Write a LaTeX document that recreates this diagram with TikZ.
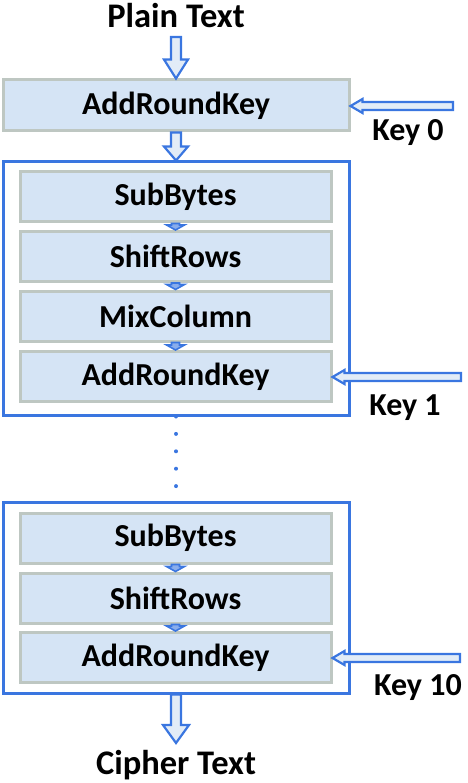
\documentclass[tikz,border=0pt]{standalone}
\usepackage{fontspec}
\setmainfont{Carlito}
\usetikzlibrary{calc}
\definecolor{aesblue}{HTML}{3A76E0}
\definecolor{boxfill}{HTML}{D5E4F5}
\definecolor{boxline}{HTML}{BEC7C2}
\definecolor{arrowfill}{HTML}{E2ECF7}
\tikzset{
  lbl/.style={font=\fontsize{32}{32}\selectfont\bfseries, text=black, inner sep=0pt},
  biglbl/.style={lbl, font=\fontsize{34.5}{34.5}\selectfont\bfseries},
  stepbox/.style={draw=boxline, fill=boxfill, line width=3pt, minimum width=311pt, minimum height=50pt, inner sep=0pt, font=\fontsize{32}{32}\selectfont\bfseries},
  roundframe/.style={draw=aesblue, line width=3pt, minimum width=346pt, inner sep=0pt},
  harrow/.style={draw=aesblue, fill=arrowfill, line width=2.2pt, line join=miter},
  sarrow/.style={draw=aesblue, fill=aesblue!60!white, line width=1.6pt, line join=miter},
  dotline/.style={draw=aesblue, line width=4pt, line cap=round, dash pattern=on 0pt off 17.4pt}
}
\newcommand\hollowDown[6]{% style, from, to, shaft half, head half, head length
  \draw[#1] let \p1=(#2), \p2=(#3) in
    (\x1-#4pt,\y1) -- (\x1-#4pt,\y2+#6pt) -- (\x1-#5pt,\y2+#6pt) -- (\x1,\y2)
    -- (\x1+#5pt,\y2+#6pt) -- (\x1+#4pt,\y2+#6pt) -- (\x1+#4pt,\y1) -- cycle;}
\newcommand\hollowLeft[6]{% style, from, to, shaft half, head half, head length
  \draw[#1] let \p1=(#2), \p2=(#3) in
    (\x1,\y1+#4pt) -- (\x2+#6pt,\y1+#4pt) -- (\x2+#6pt,\y1+#5pt) -- (\x2,\y1)
    -- (\x2+#6pt,\y1-#5pt) -- (\x2+#6pt,\y1-#4pt) -- (\x1,\y1-#4pt) -- cycle;}
\begin{document}
\begin{tikzpicture}[x=1pt,y=-1pt]
\useasboundingbox (0,0) rectangle (467,783);

% texts
\node[biglbl] (plain) at (176,16) {Plain Text};
\node[biglbl, anchor=base] (cipher) at (176,774) {Cipher Text};
\node[lbl] (k0) at (408,133) {Key 0};
\node[lbl] (k1) at (405,408) {Key 1};
\node[lbl] (k10) at (418,688) {Key 10};

% initial AddRoundKey
\node[stepbox, minimum width=346pt, minimum height=51pt] (ark0) at (176,105.5) {AddRoundKey};

% round 1
\node[roundframe, minimum height=253pt] (fr1) at (176,288.5) {};
\node[stepbox] (sb1) at (175.5,197) {SubBytes};
\node[stepbox] (sr1) at (175.5,256.5) {ShiftRows};
\node[stepbox] (mc1) at (175.5,316) {MixColumn};
\node[stepbox] (ark1) at (175.5,376.5) {AddRoundKey};

% round 10
\node[roundframe, minimum height=191pt] (fr10) at (176,597.5) {};
\node[stepbox] (sb10) at (175.5,538) {SubBytes};
\node[stepbox] (sr10) at (175.5,598) {ShiftRows};
\node[stepbox] (ark10) at (175.5,657.5) {AddRoundKey};

% coordinates for free ends
\coordinate (ptout) at (176,37);
\coordinate (ctin) at (176,743);
\coordinate (k0s) at (453,106);
\coordinate (k1s) at (461,377);
\coordinate (k10s) at (460,658);

% main arrows
\hollowDown{harrow}{ptout}{ark0.north}{5}{12}{19}
\hollowDown{harrow}{ark0.south}{fr1.north}{5}{12}{14}
\hollowDown{harrow}{fr10.south}{ctin}{5}{13}{18}

% small arrows
\hollowDown{sarrow}{sb1.south}{sr1.north}{4}{9}{5}
\hollowDown{sarrow}{sr1.south}{mc1.north}{4}{9}{5}
\hollowDown{sarrow}{mc1.south}{ark1.north}{4}{9}{5}
\hollowDown{sarrow}{sb10.south}{sr10.north}{4}{9}{5}
\hollowDown{sarrow}{sr10.south}{ark10.north}{4}{9}{5}

% key arrows
\hollowLeft{harrow}{k0s}{ark0.east}{4}{7}{12}
\hollowLeft{harrow}{k1s}{ark1.east}{4}{7}{12}
\hollowLeft{harrow}{k10s}{ark10.east}{4}{7}{12}

% dots between rounds
\draw[dotline] (fr1.south) -- (fr10.north);
\end{tikzpicture}
\end{document}
